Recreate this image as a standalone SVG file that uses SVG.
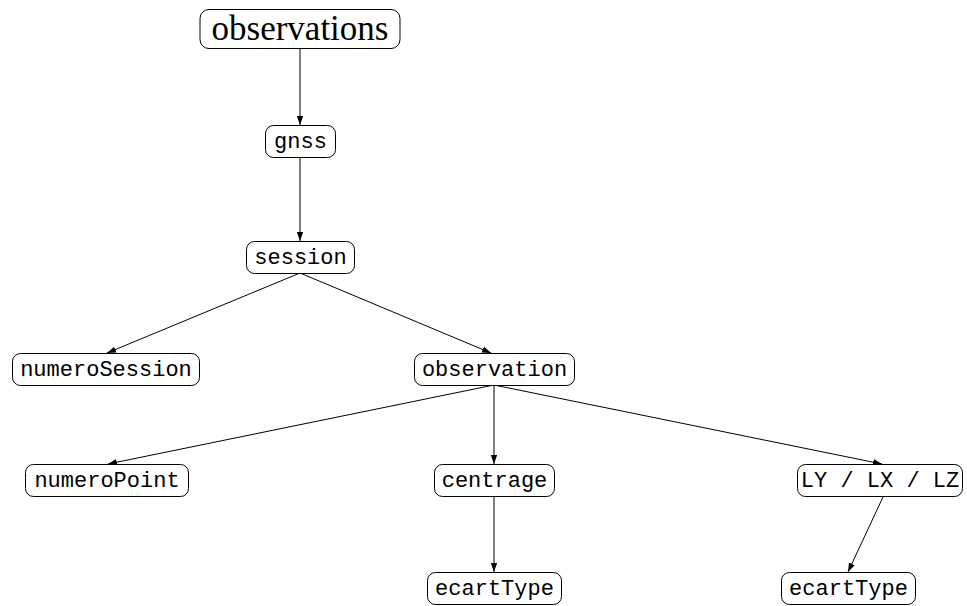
<svg xmlns="http://www.w3.org/2000/svg" width="967" height="606" viewBox="0 0 967 606">
  <style>
    .box { fill: #fff; stroke: #000; stroke-width: 1; }
    .lbl { font-family: "Liberation Mono", "DejaVu Sans Mono", monospace; font-size: 22px; fill: #000; text-anchor: middle; }
    .root { font-family: "Liberation Serif", "DejaVu Serif", serif; font-size: 35px; fill: #000; text-anchor: middle; }
    .edge { stroke: #000; stroke-width: 1; fill: none; marker-end: url(#arrow); }
  </style>
  <defs>
    <marker id="arrow" viewBox="0 0 10 10" refX="10" refY="5" markerWidth="9" markerHeight="9" markerUnits="userSpaceOnUse" orient="auto">
      <path d="M0,1.5 L10,5 L0,8.5 Z" fill="#000"/>
    </marker>
  </defs>
  <rect width="967" height="606" fill="#fff"/>

  <g id="connectors">
    <line class="edge" x1="300" y1="49" x2="300" y2="125"/>
    <line class="edge" x1="300" y1="157" x2="300" y2="241"/>
    <line class="edge" x1="300" y1="273" x2="107" y2="353"/>
    <line class="edge" x1="300" y1="273" x2="491" y2="353"/>
    <line class="edge" x1="494" y1="385" x2="108" y2="464"/>
    <line class="edge" x1="494" y1="385" x2="494" y2="464"/>
    <line class="edge" x1="494" y1="385" x2="882" y2="464"/>
    <line class="edge" x1="494" y1="497" x2="494" y2="572"/>
    <line class="edge" x1="883" y1="497" x2="848" y2="572"/>
  </g>

  <g id="observations">
    <rect class="box" x="200" y="9.5" width="200" height="39" rx="9"/>
    <text class="root" x="300" y="40">observations</text>
  </g>
  <g id="gnss">
    <rect class="box" x="265.5" y="125.5" width="70" height="32" rx="8"/>
    <text class="lbl" x="300.5" y="148">gnss</text>
  </g>
  <g id="session">
    <rect class="box" x="246.5" y="241.5" width="108" height="32" rx="8"/>
    <text class="lbl" x="300.5" y="264">session</text>
  </g>
  <g id="numeroSession">
    <rect class="box" x="12.5" y="353.5" width="187" height="32" rx="8"/>
    <text class="lbl" x="106" y="376">numeroSession</text>
  </g>
  <g id="observation">
    <rect class="box" x="414.5" y="353.5" width="160" height="32" rx="8"/>
    <text class="lbl" x="494.5" y="376">observation</text>
  </g>
  <g id="numeroPoint">
    <rect class="box" x="25.5" y="464.5" width="163" height="32" rx="8"/>
    <text class="lbl" x="107" y="487">numeroPoint</text>
  </g>
  <g id="centrage">
    <rect class="box" x="434.5" y="464.5" width="120" height="32" rx="8"/>
    <text class="lbl" x="494.5" y="487">centrage</text>
  </g>
  <g id="LYLXLZ">
    <rect class="box" x="797.5" y="464.5" width="165" height="32" rx="8"/>
    <text class="lbl" x="880" y="487">LY / LX / LZ</text>
  </g>
  <g id="ecartType-centrage">
    <rect class="box" x="427.5" y="572.5" width="134" height="32" rx="8"/>
    <text class="lbl" x="494.5" y="595">ecartType</text>
  </g>
  <g id="ecartType-L">
    <rect class="box" x="781.5" y="572.5" width="134" height="32" rx="8"/>
    <text class="lbl" x="848.5" y="595">ecartType</text>
  </g>
</svg>
